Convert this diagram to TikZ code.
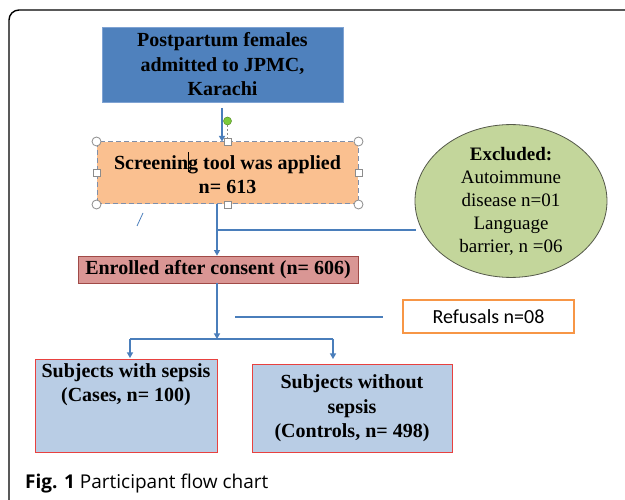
\documentclass[tikz,border=0pt]{standalone}
\usepackage{fontspec}
\setmainfont{Liberation Serif}
\newfontfamily\calib{Carlito}
\newfontfamily\capfont{Open Sans}
\usetikzlibrary{shapes.geometric,arrows.meta}
\definecolor{bluebox}{HTML}{4F81BD}
\definecolor{blueedge}{HTML}{7FA3D3}
\definecolor{orfill}{HTML}{FAC090}
\definecolor{oredge}{HTML}{7F8FAA}
\definecolor{enfill}{HTML}{D99694}
\definecolor{enedge}{HTML}{A04A47}
\definecolor{subfill}{HTML}{B9CDE5}
\definecolor{subedge}{HTML}{E8413F}
\definecolor{elfill}{HTML}{C3D69B}
\definecolor{eledge}{HTML}{55594A}
\definecolor{conncol}{HTML}{4A7EBB}
\definecolor{refedge}{HTML}{F79646}
\definecolor{handle}{HTML}{8C8C8C}
\definecolor{greendot}{HTML}{7CCB3A}
\tikzset{
  boxbase/.style={rectangle, inner sep=0pt, align=center, text=black},
  boldtxt/.style={font=\fontsize{20}{24.5}\selectfont\bfseries},
  conn/.style={draw=conncol, line width=1.1pt},
  arr/.style={conn, -{Triangle[width=6pt,length=5.5pt]}},
  circhandle/.style={circle, draw=handle, fill=white, line width=0.8pt, minimum size=9pt, inner sep=0pt},
  sqhandle/.style={rectangle, draw=handle, fill=white, line width=0.8pt, minimum size=7pt, inner sep=0pt},
}
\begin{document}
\begin{tikzpicture}[x=1pt,y=-1pt]
\clip (0,0) rectangle (625,500);
\fill[white] (0,0) rectangle (625,500);
% outer frame
\draw[black, line width=1.4pt, rounded corners=10pt] (9,10) rectangle (645,510);

% boxes
\node[boxbase, boldtxt, fill=bluebox, draw=blueedge, line width=0.8pt,
      minimum width=241pt, minimum height=75pt] (top) at (222.5,64.5)
      {Postpartum females\\admitted to JPMC,\\Karachi};
\node[boxbase, boldtxt, fill=orfill, draw=oredge, line width=1pt, dash pattern=on 5pt off 3pt,
      minimum width=261pt, minimum height=62pt] (screen) at (227.5,173)
      {Screenin\rlap{\kern-0.5pt\rule[-3pt]{0.7pt}{20pt}}g tool was applied\\[0pt]n= 613};
\node[ellipse, fill=elfill, draw=eledge, line width=0.8pt, minimum width=192pt, minimum height=142pt,
      inner sep=0pt, align=center, font=\fontsize{19}{23}\selectfont] (excl) at (511,201)
      {\textbf{Excluded:}\\Autoimmune\\disease n=01\\Language\\barrier, n =06};
\node[boxbase, boldtxt, fill=enfill, draw=enedge, line width=0.8pt,
      minimum width=280pt, minimum height=27pt] (enr) at (218,269.5)
      {Enrolled after consent (n= 606)};
\node[boxbase, draw=refedge, line width=1.8pt, fill=white, font=\calib\fontsize{20}{24}\selectfont,
      minimum width=171pt, minimum height=33pt] (ref) at (488.5,316.5) {Refusals n=08};
\node[boxbase, fill=subfill, draw=subedge, line width=1pt,
      minimum width=182pt, minimum height=92pt] (cases) at (126,406) {};
\node[boxbase, boldtxt, anchor=north] (casestxt) at (126,363)
      {Subjects with sepsis\\(Cases, n= 100)};
\node[boxbase, boldtxt, fill=subfill, draw=subedge, line width=1pt,
      minimum width=200pt, minimum height=87pt] (ctrl) at (352,408.5)
      {Subjects without\\sepsis\\(Controls, n= 498)};

% selection handles and artefacts
\coordinate (gdot) at (227.5,121);
\draw[handle, line width=0.8pt, dash pattern=on 2pt off 2pt] (gdot) -- (screen.north);
\node[circle, fill=greendot, draw=greendot!70!black, line width=0.5pt, minimum size=8pt, inner sep=0pt] (rot) at (gdot) {};
\foreach \a in {north west, north east, south west, south east}
  \node[circhandle] at (screen.\a) {};
\foreach \a in {north, south, west, east}
  \node[sqhandle] at (screen.\a) {};
\coordinate (s1) at (143,213);
\coordinate (s2) at (137,226);
\draw[conncol, line width=0.8pt] (s1) -- (s2);

% connectors
\coordinate (a1) at (222,108);
\draw[arr] (a1) -- (a1 |- screen.north);
\coordinate (t1) at (217,204);
\draw[arr] (t1) -- (t1 |- enr.north);
\coordinate (j1) at (217,230);
\coordinate (j2) at (416,230);
\draw[conn] (j1) -- (j2);
\coordinate (t2) at (217,283);
\coordinate (br) at (217,339);
\draw[arr] (t2) -- (br);
\coordinate (bl) at (130,339);
\coordinate (brr) at (333,339);
\draw[conn] (bl) -- (brr);
\draw[arr] (bl) -- (130,358);
\draw[arr] (brr) -- (333,359);
\coordinate (r1) at (235,317);
\coordinate (r2) at (383,317);
\draw[conn] (r1) -- (r2);

% caption
\node[anchor=base west, inner sep=0pt, font=\capfont\fontsize{19}{21}\selectfont] (cap) at (25,488)
  {\textbf{Fig. 1} Participant flow chart};
\end{tikzpicture}
\end{document}
